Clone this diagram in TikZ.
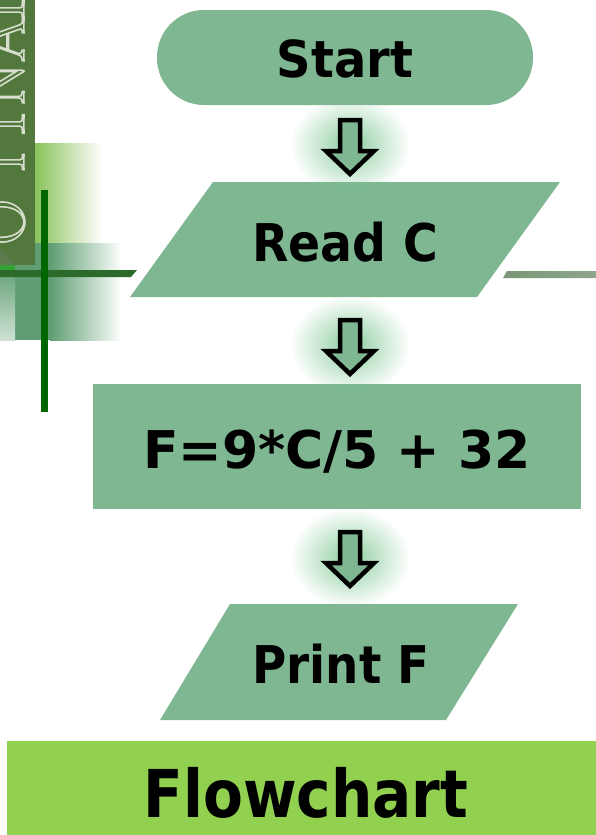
\documentclass[tikz,border=0pt]{standalone}
\usepackage{fontspec}
\usetikzlibrary{fadings}
\newfontfamily\lblfont{DejaVu Sans}

\definecolor{boxgreen}{RGB}{127,183,146}
\definecolor{bargreen}{RGB}{146,208,80}
\definecolor{stripgreen}{RGB}{82,120,62}
\definecolor{glowgreen}{RGB}{120,196,142}
\definecolor{lightgrad}{RGB}{138,194,90}
\definecolor{midgrad}{RGB}{95,158,114}
\definecolor{crossh}{RGB}{44,106,44}
\definecolor{crossv}{RGB}{0,102,0}
\definecolor{railA}{RGB}{122,150,118}
\definecolor{railB}{RGB}{142,166,140}
\definecolor{letterline}{RGB}{215,222,205}

% radial fading for the soft halo behind each arrow
\tikzfading[name=softglow,inner color=transparent!15,outer color=transparent!100]

% bold label text: size, horizontal squeeze, text
\newcommand{\lbl}[3]{{\lblfont\bfseries\fontsize{#1}{#1}\selectfont\scalebox{#2}[1]{#3}}}
% hollow (outlined) lettering
\newcommand{\hollow}[1]{\special{pdf:literal direct 1 Tr 1.6 w}#1\special{pdf:literal direct 0 Tr}}

\begin{document}
\begin{tikzpicture}[x=1pt,y=-1pt,
  shapefill/.style={fill=boxgreen},
  label/.style={anchor=base,inner sep=0pt,text=black},
  glow/.style={fill=glowgreen,path fading=softglow},
  deco/.style={anchor=base,rotate=90,inner sep=0pt,text=letterline},
  blockarrow/.pic={
    \draw[line width=4.5pt,line join=miter,fill=boxgreen]
      (-10,0) -- (10,0) -- (10,31) -- (24,31) -- (0,54) -- (-24,31) -- (-10,31) -- cycle;
  }]
\useasboundingbox (0,0) rectangle (596,835);

% ---- corner ornament ----
\shade[left color=lightgrad,right color=white] (35,143) rectangle (102,243);
\fill[midgrad] (15,243) rectangle (50,340);
\shade[left color=midgrad,right color=white] (50,243) rectangle (122,340);
\shade[top color=midgrad,bottom color=midgrad!30] (0,265) rectangle (15,340);
\fill[green!55!black!80] (0,265) rectangle (15,271);
\fill[stripgreen] (0,0) rectangle (35,265);
\fill[stripgreen!75!gray] (0,248) -- (15,265) -- (0,265) -- cycle;
\begin{scope}
  \clip (0,0) rectangle (35,265);
  \node[deco] (dT1) at (24,10)  {\fontsize{64}{64}\selectfont\hollow{T}};
  \node[deco] (dA)  at (24,40)  {\fontsize{64}{64}\selectfont\hollow{A}};
  \node[deco] (dN)  at (24,84)  {\fontsize{64}{64}\selectfont\hollow{N}};
  \node[deco] (dT2) at (24,124) {\fontsize{64}{64}\selectfont\hollow{T}};
  \node[deco] (dI)  at (24,162) {\fontsize{64}{64}\selectfont\hollow{I}};
  \node[deco] (dO)  at (24,222) {\fontsize{64}{64}\selectfont\hollow{O}};
\end{scope}
\fill[crossh] (0,270) -- (137,270) -- (131,277) -- (0,277) -- cycle;
\fill[crossv] (41,190) rectangle (48,412);
\shade[left color=railA,right color=railB] (507,271) -- (596,271) -- (596,278) -- (503,278) -- cycle;

% ---- flowchart shapes ----
\fill[shapefill,rounded corners=47pt] (157,10) rectangle (533,105);
\fill[shapefill] (213,182) -- (560,182) -- (477,297) -- (130,297) -- cycle;
\fill[shapefill] (93,384) rectangle (581,509);
\fill[shapefill] (230,604) -- (518,604) -- (446,720) -- (160,720) -- cycle;
\fill[bargreen] (7,741) rectangle (596,835);

% ---- glowing block arrows ----
\fill[glow] (350,145) ellipse (60 and 50);
\fill[glow] (350,345) ellipse (60 and 50);
\fill[glow] (350,558) ellipse (60 and 50);
\pic (arrA) at (350,120) {blockarrow};
\pic (arrB) at (350,320) {blockarrow};
\pic (arrC) at (350,532) {blockarrow};

% ---- labels ----
\node[label] (start) at (345,77)  {\lbl{51}{0.94}{Start}};
\node[label] (read)  at (345,261) {\lbl{52}{0.91}{Read C}};
\node[label] (calc)  at (337,468) {\lbl{52}{1}{F=9*C/5 + 32}};
\node[label] (print) at (341,683) {\lbl{52}{0.90}{Print F}};
\node[label] (title) at (306,817) {\lbl{66}{0.88}{Flowchart}};
\end{tikzpicture}
\end{document}
